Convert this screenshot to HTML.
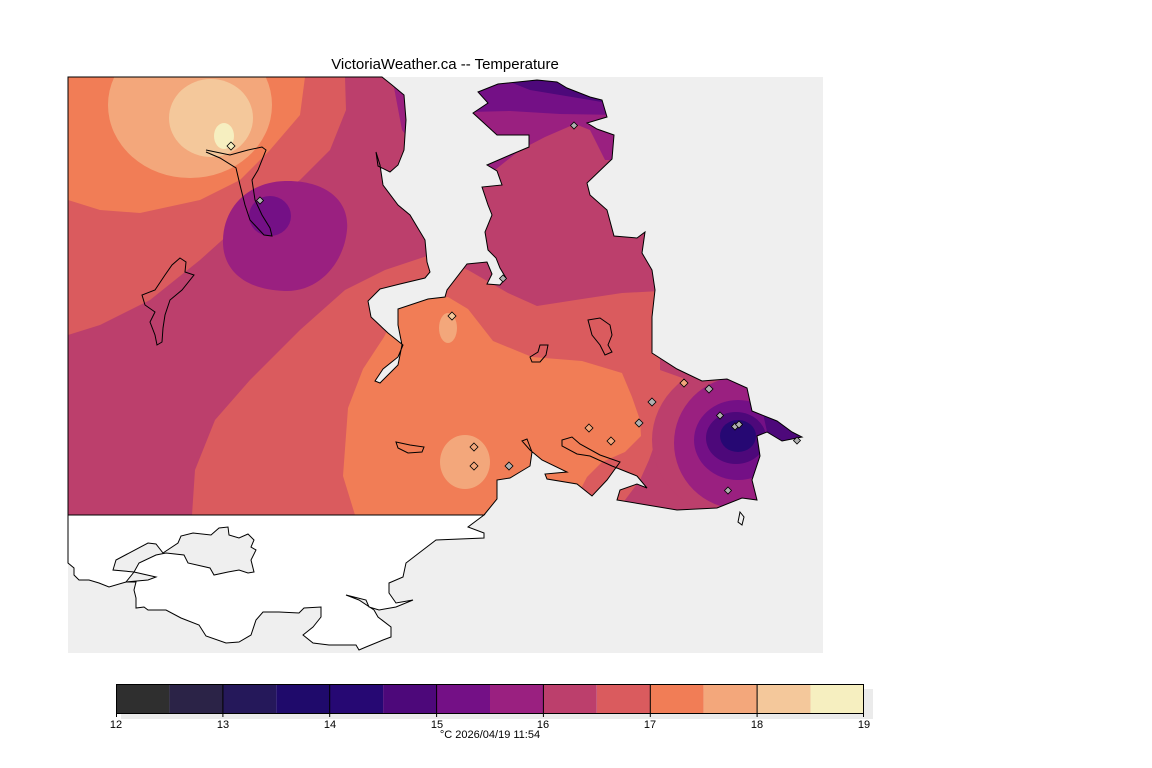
<!DOCTYPE html>
<html><head><meta charset="utf-8"><style>
html,body{margin:0;padding:0;background:#fff;}
svg{display:block;font-family:"Liberation Sans",sans-serif;}
</style></head><body>
<svg width="1152" height="768" viewBox="0 0 1152 768" xmlns="http://www.w3.org/2000/svg">
<defs>
<clipPath id="land"><path id="landp" d="M68,77 L382,77 L392,85 L404,95 L406,120 L404,150 L398,165 L390,172 L378,166 L376,152 L380,165 L383,185 L398,205 L410,215 L425,240 L427,262 L430,272 L425,278 L400,284 L380,289 L368,301 L371,317 L388,333 L403,345 L398,357 L383,369 L375,381 L380,383 L398,365 L402,345 L398,325 L398,309 L428,299 L445,297 L447,290 L467,264 L487,262 L492,274 L487,284 L500,285 L506,278 L500,268 L496,258 L488,250 L485,232 L492,215 L488,205 L482,187 L502,185 L497,171 L487,165 L510,155 L529,147 L529,135 L497,135 L473,113 L488,103 L478,92 L498,84 L537,80 L557,82 L567,88 L590,97 L602,100 L607,117 L587,123 L597,129 L614,135 L612,159 L587,183 L590,195 L607,210 L614,236 L637,238 L645,232 L642,253 L652,270 L655,290 L652,317 L652,353 L677,369 L702,381 L727,379 L747,388 L752,411 L777,421 L792,432 L802,437 L782,441 L767,432 L757,436 L760,456 L752,480 L757,500 L742,498 L717,508 L677,510 L647,505 L617,500 L620,490 L637,484 L647,488 L637,476 L632,474 L612,466 L590,456 L577,454 L562,446 L562,440 L572,437 L580,444 L600,455 L620,462 L607,480 L592,496 L577,484 L547,479 L545,474 L567,472 L542,460 L530,450 L522,441 L527,439 L532,452 L530,466 L520,472 L510,478 L497,480 L497,499 L484,515 L68,515 Z"/></clipPath>
</defs>
<!-- water background -->
<rect x="68" y="77" width="755" height="576" fill="#efefef"/>
<!-- white outside land -->
<path d="M68,515 L484,515 L468,527 L484,533 L484,538 L436,540 L419,553 L406,563 L403,577 L389,583 L389,593 L396,603 L413,600 L396,607 L379,610 L369,607 L366,600 L346,595 L359,600 L374,610 L378,617 L391,627 L391,637 L383,640 L366,647 L359,650 L356,645 L329,645 L313,643 L303,635 L313,627 L321,617 L321,607 L304,608 L299,613 L279,612 L263,612 L256,620 L251,635 L239,642 L226,643 L206,636 L199,625 L181,618 L166,610 L148,610 L144,607 L136,608 L136,598 L134,590 L136,582 L126,582 L109,587 L99,583 L89,580 L79,580 L74,575 L74,568 L68,563 Z" fill="#fff" stroke="#000" stroke-width="1"/>
<path d="M134,572 L113,570 L116,560 L148,543 L156,544 L163,553 L178,543 L181,536 L193,533 L211,535 L219,528 L228,527 L229,535 L239,538 L248,534 L254,540 L251,547 L256,550 L251,560 L254,572 L248,573 L239,570 L228,572 L214,575 L210,568 L188,563 L184,555 L166,553 L156,555 L139,563 L134,572 L156,577 L148,580 L126,582 Z" fill="#efefef" stroke="#000" stroke-width="1"/>
<!-- field -->
<g clip-path="url(#land)">
<rect x="68" y="77" width="755" height="440" fill="#bc3f6c"/>
<path d="M68,77 L345,77 L346,110 L330,150 L300,180 L250,215 L200,260 L150,300 L100,325 L68,335 Z" fill="#da5b5e"/>
<path d="M68,77 L305,77 L300,115 L270,150 L240,180 L200,200 L140,213 L100,210 L68,200 Z" fill="#f17d56"/>
<ellipse cx="190" cy="105" rx="82" ry="73" fill="#f3a77b"/>
<ellipse cx="211" cy="118" rx="42" ry="39" fill="#f4c89b"/>
<ellipse cx="224" cy="136" rx="10" ry="13" fill="#f6efc0"/>
<path d="M285,181 C325,180 350,200 347,230 C344,262 320,292 285,291 C245,290 222,270 223,240 C224,205 250,182 285,181 Z" fill="#9a2080"/>
<ellipse cx="270" cy="216" rx="21" ry="20" fill="#741086"/>
<path d="M192,515 L195,470 L215,420 L250,380 L300,330 L345,290 L385,270 L430,255 L468,270 L508,293 L537,306 L582,299 L622,293 L660,291 L660,370 L702,385 L684,397 L669,412 L659,432 L649,460 L640,480 L625,500 L615,515 Z" fill="#da5b5e"/>
<path d="M355,515 L343,476 L348,408 L363,369 L384,337 L398,309 L420,300 L448,297 L468,309 L493,341 L532,357 L582,361 L622,373 L632,397 L640,420 L641,436 L625,452 L602,462 L587,477 L575,500 L570,515 Z" fill="#f17d56"/>
<ellipse cx="448" cy="328" rx="9" ry="15" fill="#f3a77b"/>
<ellipse cx="465" cy="462" rx="25" ry="27" fill="#f3a77b"/>
<path d="M470,77 L620,77 L620,160 L605,160 L590,130 L575,124 L545,137 L520,150 L495,170 L480,185 L470,185 Z" fill="#9a2080"/>
<path d="M470,77 L620,77 L620,115 L560,114 L510,111 L470,112 Z" fill="#741086"/>
<path d="M500,77 L620,77 L620,105 L590,100 L560,95 L530,90 L510,82 Z" fill="#4d087a"/>
<path d="M392,77 L410,77 L410,140 L402,130 Z" fill="#9a2080"/>
<ellipse cx="738" cy="440" rx="86" ry="78" fill="#bc3f6c"/>
<ellipse cx="740" cy="443" rx="66" ry="66" fill="#9a2080"/>
<ellipse cx="738" cy="440" rx="44" ry="40" fill="#741086"/>
<ellipse cx="736" cy="438" rx="30" ry="26" fill="#4d087a"/>
<ellipse cx="738" cy="436" rx="18" ry="16" fill="#260873"/>
<path d="M760,400 L800,430 L805,445 L770,445 Z" fill="#4d087a"/>
</g>
<use href="#landp" fill="none" stroke="#000" stroke-width="1"/>
<!-- lakes / outlines -->
<g fill="none" stroke="#000" stroke-width="1">
<path d="M206,150 L230,155 L248,150 L262,147 L266,150 L258,170 L252,180 L255,200 L262,215 L270,228 L272,236 L264,235 L250,220 L245,205 L240,185 L236,168 L220,158 L206,152"/>
<path d="M180,258 L186,262 L185,272 L194,275 L182,290 L170,300 L165,315 L163,328 L162,342 L157,345 L155,335 L150,322 L155,312 L145,305 L142,295 L155,290 L165,275 L172,265 Z"/>
<path d="M588,320 L600,318 L610,325 L612,335 L608,345 L612,352 L605,355 L600,345 L592,335 Z"/>
<path d="M530,357 L538,352 L540,345 L548,345 L546,355 L540,362 L532,362 Z"/>
<path d="M396,442 L410,445 L424,447 L422,452 L408,453 L398,448 Z"/>
<path d="M740,512 L744,517 L742,525 L738,522 Z"/>
</g>
<!-- stations -->
<g stroke="#000" stroke-width="0.8">
<path d="M231,142 l4,4 l-4,4 l-4,-4 Z" fill="#f6efc0"/>
<path d="M260,197 l3.5,3.5 l-3.5,3.5 l-3.5,-3.5 Z" fill="#b0b0b0"/>
<path d="M452,312 l4,4 l-4,4 l-4,-4 Z" fill="#f4c89b"/>
<path d="M503,275 l3.5,3.5 l-3.5,3.5 l-3.5,-3.5 Z" fill="#b0b0b0"/>
<path d="M574,122 l3.5,3.5 l-3.5,3.5 l-3.5,-3.5 Z" fill="#b0b0b0"/>
<path d="M684,379 l4,4 l-4,4 l-4,-4 Z" fill="#f3a77b"/>
<path d="M709,385 l4,4 l-4,4 l-4,-4 Z" fill="#b0b0b0"/>
<path d="M652,398 l4,4 l-4,4 l-4,-4 Z" fill="#b0b0b0"/>
<path d="M589,424 l4,4 l-4,4 l-4,-4 Z" fill="#f3a77b"/>
<path d="M611,437 l4,4 l-4,4 l-4,-4 Z" fill="#f3a77b"/>
<path d="M639,419 l4,4 l-4,4 l-4,-4 Z" fill="#b0b0b0"/>
<path d="M720,412 l3.5,3.5 l-3.5,3.5 l-3.5,-3.5 Z" fill="#b0b0b0"/>
<path d="M735,423 l3.5,3.5 l-3.5,3.5 l-3.5,-3.5 Z" fill="#b0b0b0"/>
<path d="M739,421 l3.5,3.5 l-3.5,3.5 l-3.5,-3.5 Z" fill="#b0b0b0"/>
<path d="M728,487 l3.5,3.5 l-3.5,3.5 l-3.5,-3.5 Z" fill="#b0b0b0"/>
<path d="M797,437 l3.5,3.5 l-3.5,3.5 l-3.5,-3.5 Z" fill="#b0b0b0"/>
<path d="M474,443 l4,4 l-4,4 l-4,-4 Z" fill="#f3a77b"/>
<path d="M474,462 l4,4 l-4,4 l-4,-4 Z" fill="#f3a77b"/>
<path d="M509,462 l4,4 l-4,4 l-4,-4 Z" fill="#b0b0b0"/>
</g>
<!-- title -->
<text x="445" y="69" font-size="15" text-anchor="middle" fill="#000">VictoriaWeather.ca -- Temperature</text>
<!-- colorbar -->
<rect x="121" y="689" width="752" height="30" fill="#ebebeb"/>
<g>
<rect x="116" y="684" width="53.4" height="29" fill="#2f2f2f"/>
<rect x="169.4" y="684" width="53.4" height="29" fill="#2b2347"/>
<rect x="222.9" y="684" width="53.4" height="29" fill="#25185a"/>
<rect x="276.3" y="684" width="53.4" height="29" fill="#1f0a6b"/>
<rect x="329.7" y="684" width="53.4" height="29" fill="#260873"/>
<rect x="383.1" y="684" width="53.4" height="29" fill="#4d087a"/>
<rect x="436.6" y="684" width="53.4" height="29" fill="#741086"/>
<rect x="490" y="684" width="53.4" height="29" fill="#9a2080"/>
<rect x="543.4" y="684" width="53.4" height="29" fill="#bc3f6c"/>
<rect x="596.9" y="684" width="53.4" height="29" fill="#da5b5e"/>
<rect x="650.3" y="684" width="53.4" height="29" fill="#f17d56"/>
<rect x="703.7" y="684" width="53.4" height="29" fill="#f3a77b"/>
<rect x="757.1" y="684" width="53.4" height="29" fill="#f4c89b"/>
<rect x="810.6" y="684" width="53.4" height="29" fill="#f6efc0"/>
</g>
<rect x="116.5" y="684.5" width="747" height="29" fill="none" stroke="#000" stroke-width="1"/>
<g stroke="#000" stroke-width="1">
<line x1="222.9" y1="684" x2="222.9" y2="717"/>
<line x1="329.7" y1="684" x2="329.7" y2="717"/>
<line x1="436.6" y1="684" x2="436.6" y2="717"/>
<line x1="543.4" y1="684" x2="543.4" y2="717"/>
<line x1="650.3" y1="684" x2="650.3" y2="717"/>
<line x1="757.1" y1="684" x2="757.1" y2="717"/>
<line x1="116.5" y1="713" x2="116.5" y2="717"/>
<line x1="863.5" y1="713" x2="863.5" y2="717"/>
</g>
<g font-size="11" text-anchor="middle" fill="#000">
<text x="116" y="728">12</text><text x="223" y="728">13</text><text x="330" y="728">14</text><text x="437" y="728">15</text>
<text x="543" y="728">16</text><text x="650" y="728">17</text><text x="757" y="728">18</text><text x="864" y="728">19</text>
<text x="490" y="738">°C  2026/04/19 11:54</text>
</g>
</svg>
</body></html>
